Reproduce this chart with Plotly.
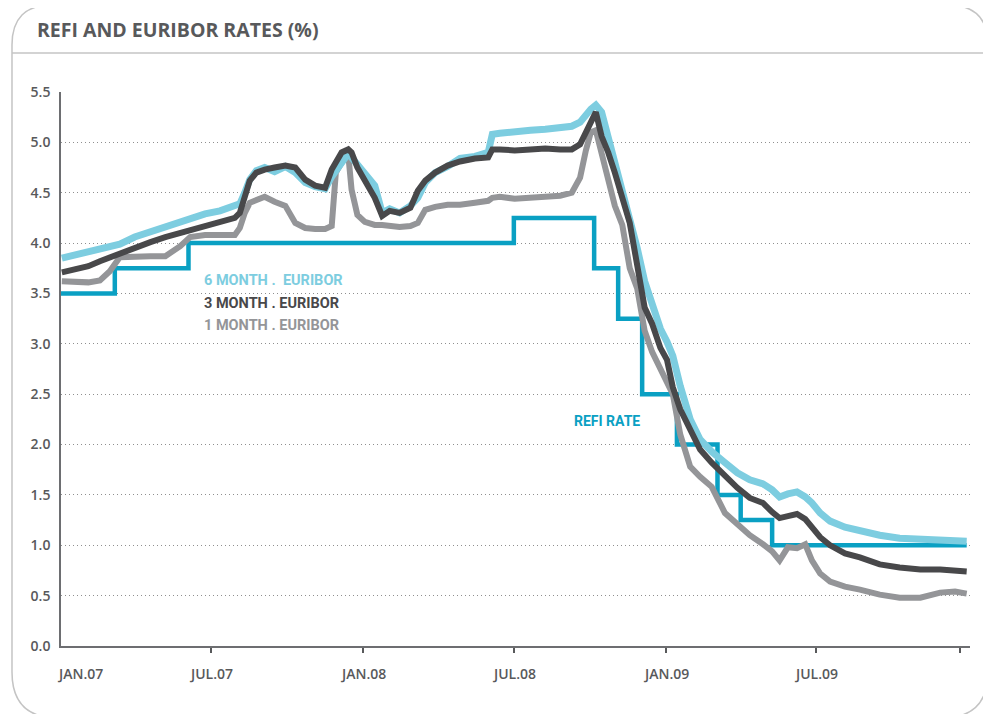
import plotly.graph_objects as go

# ---------------- data ----------------
dates = [
    "2007-01-02", "2007-01-18", "2007-02-03", "2007-02-17", "2007-03-01", "2007-03-13",
    "2007-03-31", "2007-04-19", "2007-05-07", "2007-05-25", "2007-06-06", "2007-06-24",
    "2007-07-12", "2007-07-30", "2007-08-05", "2007-08-11", "2007-08-17", "2007-08-25",
    "2007-09-04", "2007-09-16", "2007-09-29", "2007-10-11", "2007-10-23", "2007-11-04",
    "2007-11-16", "2007-11-24", "2007-11-29", "2007-12-06", "2007-12-14", "2007-12-18",
    "2007-12-25", "2008-01-03", "2008-01-15", "2008-01-24", "2008-02-02", "2008-02-14",
    "2008-02-27", "2008-03-07", "2008-03-16", "2008-03-28", "2008-04-12", "2008-04-27",
    "2008-05-15", "2008-05-31", "2008-06-05", "2008-06-14", "2008-07-02", "2008-07-21",
    "2008-08-08", "2008-08-26", "2008-09-09", "2008-09-19", "2008-09-26", "2008-10-02",
    "2008-10-08", "2008-10-15", "2008-10-23", "2008-10-31", "2008-11-09", "2008-11-18",
    "2008-11-27", "2008-12-06", "2008-12-15", "2008-12-25", "2009-01-02", "2009-01-09",
    "2009-01-18", "2009-01-30", "2009-02-11", "2009-02-25", "2009-03-13", "2009-03-28",
    "2009-04-12", "2009-04-28", "2009-05-09", "2009-05-18", "2009-05-28", "2009-06-08",
    "2009-06-18", "2009-06-26", "2009-07-06", "2009-07-18", "2009-08-05", "2009-08-23",
    "2009-09-16", "2009-10-10", "2009-11-04", "2009-11-28", "2009-12-16", "2009-12-30",
]

euribor_6m = [
    3.85, 3.88, 3.92, 3.95, 3.97, 3.99, 4.06, 4.11, 4.16, 4.22, 4.25, 4.29,
    4.32, 4.36, 4.39, 4.50, 4.63, 4.72, 4.75, 4.71, 4.76, 4.70, 4.60, 4.56,
    4.54, 4.66, 4.72, 4.80, 4.89, 4.85, 4.78, 4.70, 4.57, 4.30, 4.34, 4.30,
    4.37, 4.45, 4.60, 4.70, 4.76, 4.84, 4.86, 4.90, 5.08, 5.09, 5.11, 5.12,
    5.13, 5.14, 5.16, 5.20, 5.28, 5.33, 5.37, 5.30, 5.05, 4.80, 4.55, 4.25,
    3.95, 3.62, 3.38, 3.15, 3.02, 2.88, 2.58, 2.25, 2.05, 1.93, 1.82, 1.72,
    1.65, 1.61, 1.55, 1.48, 1.51, 1.53, 1.48, 1.42, 1.32, 1.24, 1.18, 1.14,
    1.10, 1.07, 1.06, 1.04, 1.04, 1.04,
]

euribor_3m = [
    3.71, 3.74, 3.77, 3.82, 3.86, 3.90, 3.95, 4.01, 4.06, 4.10, 4.13, 4.16,
    4.20, 4.25, 4.30, 4.47, 4.62, 4.70, 4.73, 4.75, 4.77, 4.75, 4.63, 4.57,
    4.55, 4.73, 4.80, 4.90, 4.93, 4.90, 4.75, 4.62, 4.45, 4.27, 4.32, 4.30,
    4.35, 4.52, 4.62, 4.70, 4.77, 4.81, 4.84, 4.85, 4.93, 4.93, 4.92, 4.93,
    4.94, 4.93, 4.93, 4.98, 5.10, 5.22, 5.30, 5.06, 4.90, 4.70, 4.46, 4.20,
    3.78, 3.36, 3.20, 2.96, 2.84, 2.57, 2.35, 2.15, 1.95, 1.82, 1.68, 1.57,
    1.47, 1.42, 1.33, 1.27, 1.29, 1.31, 1.26, 1.17, 1.08, 1.00, 0.92, 0.88,
    0.81, 0.78, 0.76, 0.76, 0.75, 0.74,
]

euribor_1m = [
    3.62, 3.61, 3.61, 3.63, 3.72, 3.86, 3.87, 3.87, 3.87, 3.97, 4.06, 4.08,
    4.08, 4.08, 4.15, 4.30, 4.40, 4.43, 4.46, 4.41, 4.37, 4.20, 4.15, 4.14,
    4.14, 4.17, 4.70, 4.80, 4.88, 4.53, 4.28, 4.21, 4.18, 4.18, 4.17, 4.16,
    4.17, 4.20, 4.33, 4.36, 4.38, 4.38, 4.40, 4.42, 4.45, 4.46, 4.44, 4.45,
    4.46, 4.47, 4.50, 4.65, 4.92, 5.10, 5.12, 4.88, 4.60, 4.37, 4.18, 3.75,
    3.55, 3.13, 2.92, 2.74, 2.62, 2.50, 2.10, 1.78, 1.68, 1.58, 1.32, 1.20,
    1.10, 1.01, 0.94, 0.85, 0.98, 0.97, 1.01, 0.85, 0.72, 0.64, 0.59, 0.56,
    0.51, 0.48, 0.48, 0.53, 0.54, 0.52,
]

refi_dates = [
    "2007-01-01", "2007-03-07", "2007-06-04", "2008-07-01", "2008-10-06", "2008-11-04",
    "2008-12-03", "2009-01-14", "2009-03-04", "2009-04-01", "2009-05-09", "2009-12-30",
]
refi_rate = [3.50, 3.75, 4.00, 4.25, 3.75, 3.25, 2.50, 2.00, 1.50, 1.25, 1.00, 1.00]

y_ticks = [0.0, 0.5, 1.0, 1.5, 2.0, 2.5, 3.0, 3.5, 4.0, 4.5, 5.0, 5.5]
x_tick_dates = ["2007-07-01", "2008-01-01", "2008-07-01", "2009-01-01", "2009-07-01", "2009-12-22"]
x_label_dates = ["2007-01-01", "2007-07-01", "2008-01-01", "2008-07-01", "2009-01-01", "2009-07-01"]
x_labels = ["JAN.07", "JUL.07", "JAN.08", "JUL.08", "JAN.09", "JUL.09"]

series_names = ["6 MONTH . \u00a0EURIBOR", "3 MONTH . EURIBOR", "1 MONTH . EURIBOR"]
title_text = "REFI AND EURIBOR RATES (%)"
refi_label = "REFI RATE"

# ---------------- style ----------------
# the page body adds an 8px offset, so the figure is 8px smaller and margins shifted
W, H = 983, 706
ML, MR, MT, MB = 53, 21, 84, 68
PW, PH = W - ML - MR, H - MT - MB   # 909 x 554

C_6M = "#7dcde0"
C_3M = "#48484a"
C_1M = "#949598"
C_REFI = "#0aa0c3"
C_TEXT = "#58595b"
C_FRAME = "#c4c4c4"

FONT_MAIN = "Open Sans, Liberation Sans, sans-serif"
FONT_LEG = "Roboto, Open Sans, sans-serif"


def px(x):
    # screen pixel -> paper x
    return (x - 61) / PW


def py(y):
    # screen pixel -> paper y
    return (646 - y) / PH


fig = go.Figure()

fig.add_trace(go.Scatter(x=refi_dates, y=refi_rate, mode="lines", line=dict(color=C_REFI, width=4.5, shape="hv"),
                         name="Refi", hoverinfo="skip"))
fig.add_trace(go.Scatter(x=dates, y=euribor_1m, mode="lines", line=dict(color=C_1M, width=6),
                         name=series_names[2]))
fig.add_trace(go.Scatter(x=dates, y=euribor_6m, mode="lines", line=dict(color=C_6M, width=7),
                         name=series_names[0]))
fig.add_trace(go.Scatter(x=dates, y=euribor_3m, mode="lines", line=dict(color=C_3M, width=6),
                         name=series_names[1]))

fig.update_layout(
    width=W, height=H,
    margin=dict(l=ML, r=MR, t=MT, b=MB, pad=0),
    paper_bgcolor="white", plot_bgcolor="white",
    showlegend=False,
    font=dict(family=FONT_MAIN, color=C_TEXT),
)

fig.update_xaxes(
    type="date", range=["2007-01-01", "2010-01-03"],
    tickvals=x_tick_dates, ticktext=[""] * len(x_tick_dates),
    ticks="outside", ticklen=5, tickwidth=1.5, tickcolor="#58595b",
    showline=True, linecolor="#6d6e71", linewidth=1.5,
    showgrid=False, zeroline=False,
)
fig.update_yaxes(
    range=[0, 5.5],
    tickvals=y_ticks, ticktext=[f"{v:.1f}" for v in y_ticks],
    tickfont=dict(size=14, color=C_TEXT, weight=600),
    ticks="", ticklabelstandoff=6,
    showline=True, linecolor="#6d6e71", linewidth=1.5,
    showgrid=True, gridcolor="#8f8f8f", gridwidth=1, griddash="1px,3px",
    zeroline=False,
)

annotations = []
annotations.append(dict(text=title_text, x=px(35), y=py(30), xref="paper", yref="paper",
                        xanchor="left", yanchor="middle", showarrow=False,
                        font=dict(size=19.5, color=C_TEXT, family=FONT_MAIN, weight=700)))
for i, (d, t) in enumerate(zip(x_label_dates, x_labels)):
    annotations.append(dict(text=t, x=d, y=py(673), xref="x", yref="paper",
                            xanchor="center", yanchor="middle", showarrow=False,
                            xshift=19 if i == 0 else 0,
                            font=dict(size=14, color=C_TEXT, family=FONT_MAIN, weight=600)))
for name, col, ypix in zip(series_names, [C_6M, C_3M, C_1M], [280, 303, 325]):
    annotations.append(dict(text=name, x=px(202), y=py(ypix), xref="paper", yref="paper",
                            xanchor="left", yanchor="middle", showarrow=False,
                            font=dict(size=14.5, color=col, family=FONT_LEG, weight=700)))
annotations.append(dict(text=refi_label, x=px(572), y=py(421), xref="paper", yref="paper",
                        xanchor="left", yanchor="middle", showarrow=False,
                        font=dict(size=14, color=C_REFI, family=FONT_LEG, weight=700)))
fig.update_layout(annotations=annotations)

pts = [("M", 12, 672), ("L", 12, 45), ("Q", 12, 5, 52, 5), ("L", 948, 5), ("Q", 988, 5, 988, 45),
       ("L", 988, 672), ("Q", 988, 718, 942, 718), ("L", 58, 718), ("Q", 12, 718, 12, 672)]
path = ""
for p in pts:
    seg = p[0]
    coords = p[1:]
    for j in range(0, len(coords), 2):
        seg += f" {px(coords[j]):.5f},{py(coords[j + 1]):.5f}"
    path += seg + " "
path += "Z"
shapes = [
    dict(type="path", path=path, xref="paper", yref="paper", line=dict(color=C_FRAME, width=1.5),
         fillcolor="rgba(0,0,0,0)", layer="above"),
    dict(type="line", x0=px(12), x1=px(988), y0=py(53), y1=py(53), xref="paper", yref="paper",
         line=dict(color=C_FRAME, width=1.5), layer="above"),
]
fig.update_layout(shapes=shapes)

fig.write_html("out.html")
